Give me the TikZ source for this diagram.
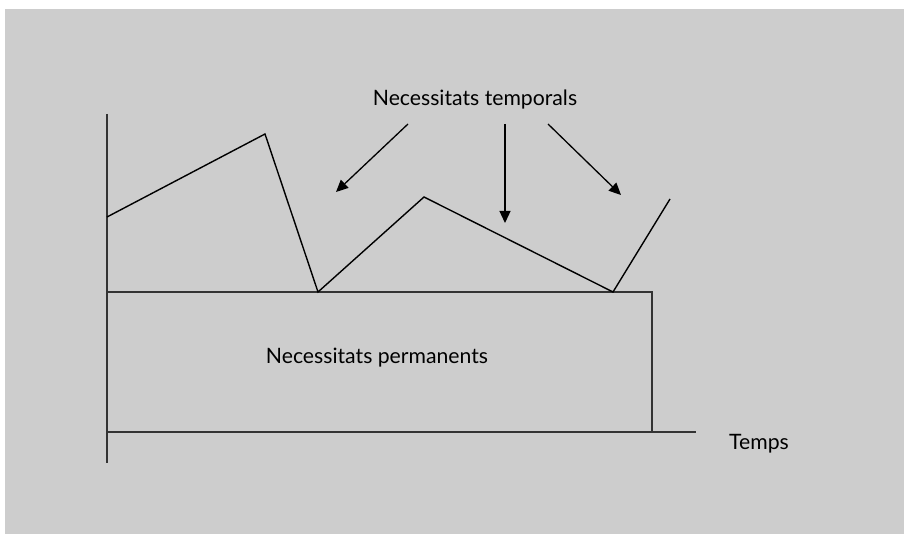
\documentclass[tikz,border=0pt]{standalone}
\usepackage{fontspec}
\setmainfont{Lato}
\usetikzlibrary{arrows.meta}
\definecolor{panel}{HTML}{CDCDCD}
\definecolor{axisgray}{HTML}{333333}
\tikzset{
  axisline/.style={draw=axisgray, line width=1.8pt},
  curve/.style={draw=black, line width=1.4pt, line join=miter},
  pointer/.style={draw=black, line width=1.3pt, -{Triangle[length=12pt,width=11pt]}},
  label/.style={font=\fontsize{21.2}{24}\selectfont, inner sep=0pt}
}
\begin{document}
\begin{tikzpicture}[x=1pt,y=-1pt]
  \useasboundingbox (0,0) rectangle (904,534);
  \fill[white] (0,0) rectangle (904,534);
  \fill[panel] (5,9) rectangle (904,534);

  % axes
  \coordinate (ytop) at (107,114);
  \coordinate (ybot) at (107,463);
  \coordinate (xl) at (107,432);
  \coordinate (xr) at (696,432);
  \draw[axisline] (ytop) -- (ybot);
  \draw[axisline] (xl) -- (xr);

  % permanent block
  \coordinate (pl) at (107,292);
  \coordinate (pr) at (652,292);
  \coordinate (pb) at (652,432);
  \draw[axisline] (pl) -- (pr) -- (pb);

  % temporary needs profile
  \coordinate (c0) at (107,217);
  \coordinate (c1) at (265,134);
  \coordinate (c2) at (318,292);
  \coordinate (c3) at (424,197);
  \coordinate (c4) at (613,292);
  \coordinate (c5) at (670,199);
  \draw[curve] (c0) -- (c1) -- (c2) -- (c3) -- (c4) -- (c5);

  % labels
  \node[label] (temp) at (475,100) {Necessitats temporals};
  \node[label] (perm) at (377,358) {Necessitats permanents};
  \node[label, anchor=west] (temps) at (729,444) {Temps};

  % pointers
  \coordinate (a1s) at (408,124);
  \coordinate (a1e) at (336,192);
  \coordinate (a2s) at (505,124);
  \coordinate (a2e) at (505,223);
  \coordinate (a3s) at (548,124);
  \coordinate (a3e) at (621,195);
  \draw[pointer] (a1s) -- (a1e);
  \draw[pointer] (a2s) -- (a2e);
  \draw[pointer] (a3s) -- (a3e);
\end{tikzpicture}
\end{document}
